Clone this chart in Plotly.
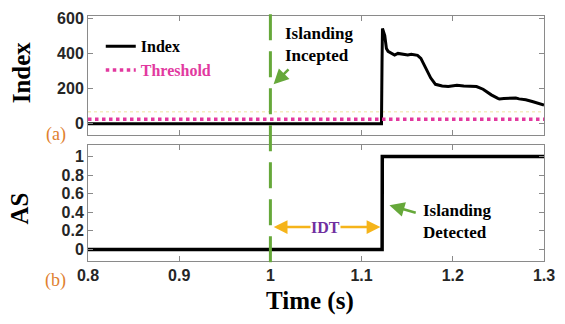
import plotly.graph_objects as go

# ---- data ----
t_index = [0.80, 1.1218, 1.1224, 1.1229, 1.1254, 1.1272, 1.1290, 1.1326, 1.1362, 1.1398,
           1.1434, 1.1470, 1.1506, 1.1545, 1.1580, 1.1613, 1.1650, 1.1703, 1.1757,
           1.1810, 1.1850, 1.1883, 1.1950, 1.2045, 1.2120, 1.2200, 1.2260, 1.2332,
           1.2422, 1.2494, 1.2511, 1.2560, 1.2620, 1.2691, 1.2727, 1.2800, 1.2871,
           1.2930, 1.3000]
index_vals = [0, 0, 350, 542, 502, 428, 412, 400, 391, 400,
              396, 393, 391, 395, 392, 389, 372, 317, 261,
              224, 218, 214, 212, 218, 214, 213, 211, 196,
              164, 144, 141, 143, 146, 146, 141, 136, 126,
              118, 106]

t_thr = [0.80, 1.30]
threshold = [25, 25]
t_band = [0.80, 1.30]
band = [68, 68]

t_as = [0.80, 1.1225, 1.1227, 1.30]
as_vals = [0, 0, 1, 1]

t_islanding = 1.0
t_detect = 1.1226

x_ticks = [0.8, 0.9, 1.0, 1.1, 1.2, 1.3]
x_ticklabels = ["0.8", "0.9", "1", "1.1", "1.2", "1.3"]
y1_ticks = [0, 200, 400, 600]
y2_ticks = [0, 0.2, 0.4, 0.6, 0.8, 1]
y2_ticklabels = ["0", "0.2", "0.4", "0.6", "0.8", "1"]

SERIF = "Liberation Serif"
SANS = "Liberation Sans"
GREEN = "#66a83a"
ORANGE_ARROW = "#f5b41a"
MAGENTA = "#e2399f"

fig = go.Figure()

fig.add_trace(go.Scatter(x=t_band, y=band, mode="lines", showlegend=False,
                         line=dict(color="#f4ecc0", width=1.5, dash="dot"),
                         xaxis="x", yaxis="y", hoverinfo="skip"))
fig.add_trace(go.Scatter(x=t_index, y=index_vals, mode="lines", name="<b>Index</b>",
                         line=dict(color="black", width=3),
                         xaxis="x", yaxis="y"))
fig.add_trace(go.Scatter(x=t_thr, y=threshold, mode="lines",
                         name=f"<b><span style='color:{MAGENTA}'>Threshold</span></b>",
                         line=dict(color=MAGENTA, width=3.5, dash="dot"),
                         xaxis="x", yaxis="y"))
fig.add_trace(go.Scatter(x=t_as, y=as_vals, mode="lines", showlegend=False,
                         line=dict(color="black", width=3.5),
                         xaxis="x2", yaxis="y2"))

axis_common = dict(showline=True, linecolor="#8a8a8a", linewidth=1, mirror="ticks",
                   ticks="inside", ticklen=5, tickcolor="#8a8a8a", tickwidth=1,
                   showgrid=False, zeroline=False,
                   tickfont=dict(family=SANS, size=16, color="#262626", weight="bold"))

fig.update_layout(
    width=565, height=324,
    margin=dict(l=88, r=13, t=10, b=63),
    paper_bgcolor="white", plot_bgcolor="white",
    xaxis=dict(domain=[0, 1], anchor="y", range=[0.8, 1.3], tickvals=x_ticks,
               showticklabels=False, **axis_common),
    yaxis=dict(domain=[0.514, 1], anchor="x", range=[-65, 613], tickvals=y1_ticks,
               **axis_common),
    xaxis2=dict(domain=[0, 1], anchor="y2", range=[0.8, 1.3], tickvals=x_ticks,
                ticktext=x_ticklabels, **axis_common),
    yaxis2=dict(domain=[0, 0.474], anchor="x2", range=[-0.125, 1.125],
                tickvals=y2_ticks, ticktext=y2_ticklabels, **axis_common),
    legend=dict(x=0.028, y=0.946, xanchor="left", yanchor="top", itemwidth=30,
                bgcolor="rgba(0,0,0,0)", tracegroupgap=0,
                font=dict(family=SERIF, size=16, color="black")),
    showlegend=True,
)

# islanding inception marker across both panels
fig.add_shape(type="line", xref="x", yref="paper", x0=t_islanding, x1=t_islanding,
              y0=-0.005, y1=1.045, line=dict(color=GREEN, width=3, dash="26px,11px"))

ann = []
# axis titles and panel labels
ann.append(dict(text="<b>Index</b>", xref="paper", yref="paper", x=-0.147, y=0.77,
                xanchor="center", yanchor="middle", textangle=-90, showarrow=False,
                font=dict(family=SERIF, size=25, color="black")))
ann.append(dict(text="<b>AS</b>", xref="paper", yref="paper", x=-0.151, y=0.215,
                xanchor="center", yanchor="middle", textangle=-90, showarrow=False,
                font=dict(family=SERIF, size=25, color="black")))
ann.append(dict(text="<b>Time (s)</b>", xref="paper", yref="paper", x=0.487, y=-0.165,
                xanchor="center", yanchor="middle", showarrow=False,
                font=dict(family=SERIF, size=25, color="black")))
ann.append(dict(text="(a)", xref="paper", yref="paper", x=-0.071, y=0.515,
                xanchor="center", yanchor="middle", showarrow=False,
                font=dict(family=SERIF, size=18, color="#e0802e")))
ann.append(dict(text="(b)", xref="paper", yref="paper", x=-0.071, y=-0.08,
                xanchor="center", yanchor="middle", showarrow=False,
                font=dict(family=SERIF, size=18, color="#e0802e")))

# event annotations
ann.append(dict(text="<b>Islanding<br>Incepted</b>", xref="x", yref="y",
                x=1.0135, y=452, xanchor="left", yanchor="middle", align="left",
                showarrow=False, font=dict(family=SERIF, size=17, color="black")))
ann.append(dict(x=1.0035, y=224, ax=1.0215, ay=318, xref="x", yref="y",
                axref="x", ayref="y", text="", showarrow=True, arrowhead=2,
                arrowsize=1.2, arrowwidth=2.5, arrowcolor=GREEN))
ann.append(dict(text="<b>Islanding<br>Detected</b>", xref="x2", yref="y2",
                x=1.165, y=0.3, xanchor="left", yanchor="middle", align="left",
                showarrow=False, font=dict(family=SERIF, size=17, color="black")))
ann.append(dict(x=1.1305, y=0.475, ax=1.161, ay=0.39, xref="x2", yref="y2",
                axref="x2", ayref="y2", text="", showarrow=True, arrowhead=2,
                arrowsize=1.2, arrowwidth=2.5, arrowcolor=GREEN))
ann.append(dict(x=t_detect - 0.002, y=0.24, ax=t_islanding + 0.002, ay=0.24,
                xref="x2", yref="y2", axref="x2", ayref="y2", text="",
                showarrow=True, arrowhead=2, startarrowhead=2, arrowside="end+start",
                arrowsize=1.1, startarrowsize=1.1, arrowwidth=2.5,
                arrowcolor=ORANGE_ARROW))
ann.append(dict(text="<b>IDT</b>", xref="x2", yref="y2", x=1.0608, y=0.24,
                showarrow=False, bgcolor="white", borderpad=0,
                font=dict(family=SERIF, size=16, color="#7030a0")))

fig.update_layout(annotations=ann)

fig.write_html("out.html")
